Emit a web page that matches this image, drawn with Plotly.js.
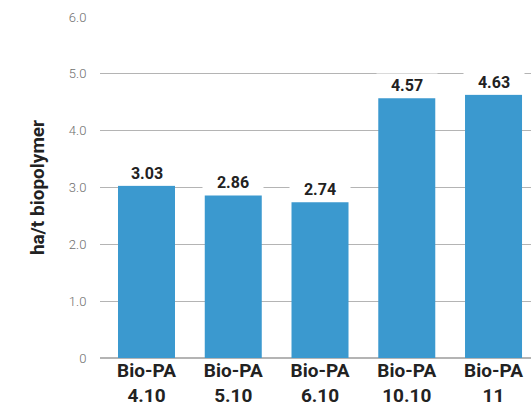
<!DOCTYPE html>
<html>
<head>
<meta charset="utf-8">
<script src="https://cdn.plot.ly/plotly-3.0.1.min.js"></script>
<style>html,body{margin:0;padding:0;background:#fff;}#chart{width:531px;height:408px;}</style>
</head>
<body>
<div id="chart"></div>
<script>
var categories = ["Bio-PA<br>4.10", "Bio-PA<br>5.10", "Bio-PA<br>6.10", "Bio-PA<br>10.10", "Bio-PA<br>11"];
var values = [3.03, 2.86, 2.74, 4.57, 4.63];
var valueLabels = ["3.03", "2.86", "2.74", "4.57", "4.63"];
var yTickVals = [0, 1, 2, 3, 4, 5, 6];
var yTickText = ["0", "1.0", "2.0", "3.0", "4.0", "5.0", "6.0"];
var yTitle = "ha/t biopolymer";

var xIdx = categories.map(function(_, i){ return i; });

var trace = {
  type: "bar",
  x: xIdx,
  y: values,
  marker: {color: "#3b99cf"},
  hoverinfo: "none"
};

var annotations = values.map(function(v, i){
  return {
    x: i, y: v, xref: "x", yref: "y",
    text: "<b>" + valueLabels[i] + "</b>",
    showarrow: false,
    yanchor: "bottom",
    yshift: 0,
    bgcolor: "#ffffff",
    borderpad: 2,
    width: 56,
    font: {family: "Roboto, sans-serif", size: 16, color: "#222222"}
  };
});

var layout = {
  width: 531, height: 408,
  margin: {l: 100, r: 0, t: 17, b: 50, pad: 0},
  paper_bgcolor: "#ffffff",
  plot_bgcolor: "#ffffff",
  showlegend: false,
  bargap: 0.343,
  xaxis: {
    range: [-0.536, 4.432],
    tickvals: xIdx,
    ticktext: categories.map(function(c){ return "<b>" + c + "</b>"; }),
    tickfont: {family: "Roboto, sans-serif", size: 19, color: "#222222"},
    showgrid: false, zeroline: false, showline: false,
    ticks: "", ticklabelstandoff: -1
  },
  yaxis: {
    range: [0, 6],
    tickvals: yTickVals,
    ticktext: yTickText,
    tickfont: {family: "Roboto, sans-serif", size: 13, color: "#6e6e6e", weight: 300},
    showgrid: true, gridcolor: "#b4b4b4", gridwidth: 1,
    zeroline: true, zerolinecolor: "#b4b4b4", zerolinewidth: 1.5,
    showline: false,
    ticks: "outside", ticklen: 10, tickcolor: "rgba(0,0,0,0)",
    title: {text: "<b>" + yTitle + "</b>", font: {family: "Roboto, sans-serif", size: 19, color: "#222222"}, standoff: 19}
  },
  annotations: annotations
};

Plotly.newPlot("chart", [trace], layout, {staticPlot: true, displayModeBar: false});
</script>
</body>
</html>
